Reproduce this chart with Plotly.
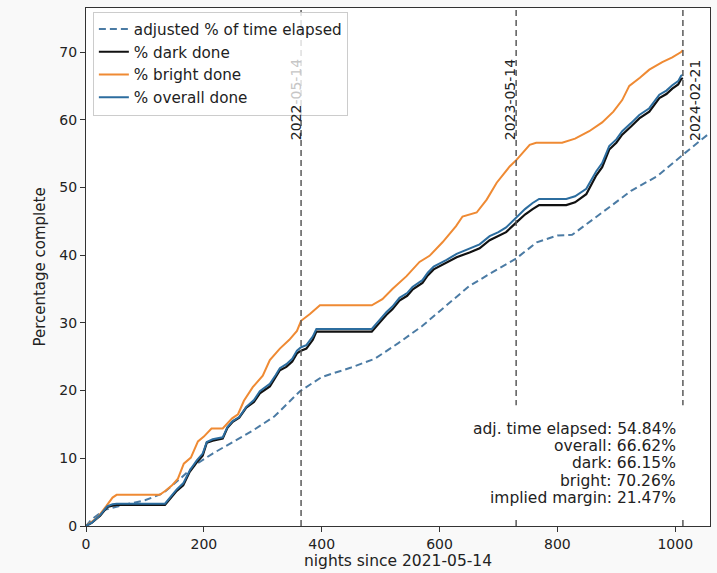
import plotly.graph_objects as go

# ---- data ----
elapsed_x = [0, 10, 32, 58, 100, 130, 160, 185, 215, 250, 285, 320, 363, 400, 450, 490,
             530, 570, 610, 650, 690, 730, 765, 800, 825, 855, 890, 925, 970, 1013, 1058]
elapsed_y = [0, 1.0, 2.4, 3.0, 3.8, 4.8, 7.0, 9.0, 10.7, 12.5, 14.2, 16.2, 19.9, 22.0, 23.4, 24.7,
             27.0, 29.5, 32.5, 35.4, 37.5, 39.5, 41.9, 42.9, 43.0, 44.9, 47.2, 49.5, 51.7, 54.84, 58.0]

bright_x = [0, 10, 20, 35, 45, 52, 125, 135, 146, 156, 166, 178, 190, 200, 213, 232, 248, 258,
            268, 283, 300, 312, 329, 345, 358, 365, 380, 397, 485, 503, 520, 544, 566, 583, 605,
            628, 639, 663, 680, 697, 719, 731, 753, 764, 808, 830, 854, 876, 895, 910, 922, 940,
            956, 978, 995, 1010, 1013]
bright_y = [0, 0.6, 1.3, 3.0, 4.2, 4.6, 4.6, 5.2, 6.0, 7.0, 9.2, 10.1, 12.5, 13.2, 14.4, 14.4,
            15.9, 16.5, 18.5, 20.5, 22.2, 24.5, 26.2, 27.5, 28.8, 30.3, 31.3, 32.6, 32.6, 33.5,
            35.0, 36.9, 39.0, 39.9, 41.9, 44.3, 45.7, 46.3, 48.2, 50.7, 53.1, 54.1, 56.3, 56.6,
            56.6, 57.2, 58.3, 59.6, 61.2, 62.9, 65.0, 66.2, 67.4, 68.5, 69.2, 70.0, 70.26]

done_x = [0, 10, 24, 36, 45, 52, 134, 142, 154, 165, 176, 188, 198, 205, 215, 232, 240, 249,
          260, 272, 285, 295, 312, 322, 329, 340, 350, 358, 365, 374, 385, 391, 485, 498, 510,
          520, 532, 545, 554, 571, 580, 590, 612, 629, 651, 668, 685, 700, 713, 730, 745, 758,
          769, 815, 830, 849, 860, 866, 876, 888, 900, 910, 925, 939, 956, 965, 973, 985, 995,
          1005, 1010, 1013]
dark_y = [0, 0.5, 1.5, 2.8, 3.0, 3.1, 3.1, 4.0, 5.2, 6.0, 8.0, 9.4, 10.4, 12.3, 12.6, 12.9,
          14.5, 15.4, 16.0, 17.5, 18.3, 19.6, 20.6, 22.0, 23.0, 23.5, 24.3, 25.5, 25.9, 26.2,
          27.5, 28.7, 28.7, 30.0, 31.2, 32.0, 33.3, 34.0, 34.9, 35.9, 37.0, 37.9, 38.9, 39.7,
          40.4, 41.0, 42.2, 42.8, 43.4, 44.8, 46.0, 46.8, 47.4, 47.4, 47.8, 49.0, 50.8, 51.8,
          53.0, 55.6, 56.6, 57.8, 59.0, 60.2, 61.2, 62.3, 63.2, 63.8, 64.6, 65.2, 66.0, 66.15]
overall_y = [0, 0.5, 1.6, 2.9, 3.2, 3.3, 3.3, 4.2, 5.4, 6.3, 8.2, 9.7, 10.7, 12.4, 12.8, 13.1,
             14.6, 15.5, 16.1, 17.6, 18.6, 19.9, 21.0, 22.3, 23.3, 23.9, 24.7, 25.9, 26.4, 26.7,
             28.0, 29.1, 29.1, 30.4, 31.6, 32.4, 33.7, 34.4, 35.3, 36.3, 37.4, 38.3, 39.3, 40.2,
             41.0, 41.6, 42.8, 43.4, 44.1, 45.5, 46.8, 47.7, 48.3, 48.3, 48.7, 49.8, 51.5, 52.4,
             53.6, 56.1, 57.1, 58.3, 59.5, 60.7, 61.7, 62.8, 63.7, 64.3, 65.1, 65.7, 66.5, 66.62]

marker_x = [365, 730, 1013]
# the first label is partly behind the semi-transparent legend, so its tail is faded
marker_labels = ["2022<span style='color:#c6c6c6'>-05-14</span>", "2023-05-14", "2024-02-21"]
marker_shift = [-5, -6, 12]

stats_text = ["adj. time elapsed: 54.84%", "overall: 66.62%", "dark: 66.15%",
              "bright: 70.26%", "implied margin: 21.47%"]
stats_y = [0.1863, 0.1536, 0.1209, 0.0863, 0.0536]

FONT = "DejaVu Sans"
C_ELAPSED = "#4b7ba4"
C_DARK = "#111111"
C_BRIGHT = "#ef8a33"
C_OVERALL = "#2c6d9f"

fig = go.Figure()
fig.add_trace(go.Scatter(x=elapsed_x, y=elapsed_y, mode="lines", name="adjusted % of time elapsed",
                         line=dict(color=C_ELAPSED, width=2, dash="7px,4px")))
fig.add_trace(go.Scatter(x=done_x, y=dark_y, mode="lines", name="% dark done",
                         line=dict(color=C_DARK, width=2.2)))
fig.add_trace(go.Scatter(x=bright_x, y=bright_y, mode="lines", name="% bright done",
                         line=dict(color=C_BRIGHT, width=2)))
fig.add_trace(go.Scatter(x=done_x, y=overall_y, mode="lines", name="% overall done",
                         line=dict(color=C_OVERALL, width=2)))

for xv in marker_x:
    fig.add_shape(type="line", x0=xv, x1=xv, y0=0, y1=1, xref="x", yref="paper",
                  line=dict(color="#5a5a5a", width=1.5, dash="6px,4px"), layer="above")

# white box behind the stats text (hides the marker lines there)
fig.add_shape(type="rect", xref="paper", yref="paper", x0=0.6, x1=0.98, y0=0.017, y1=0.233,
              fillcolor="#ffffff", line=dict(width=0), layer="above")

for xv, lab, sh in zip(marker_x, marker_labels, marker_shift):
    fig.add_annotation(x=xv, y=62.9, text=lab, textangle=-90, showarrow=False,
                       xanchor="center", yanchor="middle", xshift=sh,
                       font=dict(family=FONT, size=14, color="#222222"))

for txt, yy in zip(stats_text, stats_y):
    fig.add_annotation(x=0.9488, y=yy, xref="paper", yref="paper", xanchor="right",
                       yanchor="middle", text=txt, align="right", showarrow=False,
                       font=dict(family=FONT, size=15.5, color="#222222"))

fig.update_layout(
    width=717, height=573,
    margin=dict(l=86, r=6, t=8, b=45),
    paper_bgcolor="#f9f9f9", plot_bgcolor="#ffffff",
    font=dict(family=FONT, size=14, color="#222222"),
    showlegend=True,
    legend=dict(x=0.011, y=0.993, xanchor="left", yanchor="top",
                bgcolor="rgba(255,255,255,0.8)", bordercolor="#cccccc", borderwidth=1,
                font=dict(family=FONT, size=15.2, color="#222222")),
)
fig.update_xaxes(range=[0, 1059], tickvals=[0, 200, 400, 600, 800, 1000],
                 ticks="outside", ticklen=5, tickcolor="#333", showgrid=False, zeroline=False,
                 showline=True, linecolor="#333", linewidth=1, mirror=True,
                 title=dict(text="nights since 2021-05-14", standoff=4,
                            font=dict(family=FONT, size=15.5, color="#222222")))
fig.update_yaxes(range=[0, 76.5], tickvals=[0, 10, 20, 30, 40, 50, 60, 70],
                 ticks="outside", ticklen=5, tickcolor="#333", showgrid=False, zeroline=False,
                 showline=True, linecolor="#333", linewidth=1, mirror=True,
                 title=dict(text="Percentage complete", standoff=10,
                            font=dict(family=FONT, size=15, color="#222222")))

fig.write_html("out.html")
